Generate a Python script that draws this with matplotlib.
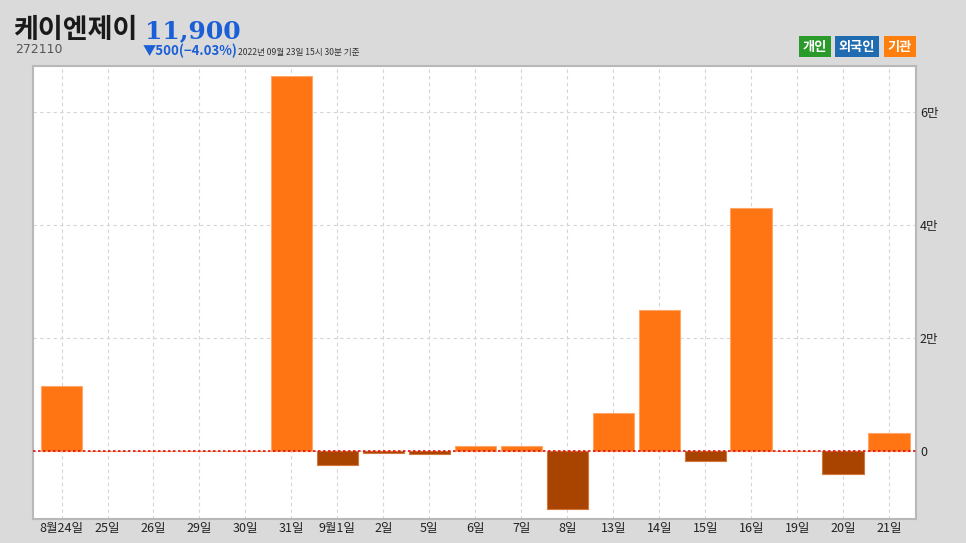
import matplotlib
matplotlib.use('Agg')
import numpy as np
import matplotlib.pyplot as plt
from matplotlib.patches import Rectangle
from matplotlib.ticker import FixedLocator, FuncFormatter

plt.rcParams['font.family'] = ['Noto Sans CJK KR', 'DejaVu Sans']

# 기관 순매수 (주)
dates = ['8월24일', '25일', '26일', '29일', '30일', '31일', '9월1일', '2일', '5일', '6일',
         '7일', '8일', '13일', '14일', '15일', '16일', '19일', '20일', '21일']
inst_net = [11500, 0, 0, 0, 0, 66400, -2500, -250, -450, 950,
            1000, -10300, 6700, 25000, -1700, 43000, 0, -4100, 3300]
y_ticks = [0, 20000, 40000, 60000]

BG = '#dadada'
POS_COLOR = '#ff7413'
NEG_COLOR = '#a84300'
W, H = 966, 543

fig = plt.figure(figsize=(W / 100, H / 100), dpi=100, facecolor=BG)
ax = fig.add_axes([0.0342, 0.0442, 0.9138, 0.8343])
ax.set_facecolor('white')

x = np.arange(len(dates))
vals = np.array(inst_net)
colors = [POS_COLOR if v >= 0 else NEG_COLOR for v in vals]
edges = ['#ffa66a' if v >= 0 else '#d0773a' for v in vals]
ax.bar(x, vals, width=0.9, color=colors, edgecolor=edges, linewidth=0.8, zorder=3)

ax.axhline(0, color='#e01010', linestyle=(0, (1.5, 1.5)), linewidth=1.2, zorder=4)

ax.set_xlim(-0.62, len(dates) - 0.42)
ax.set_ylim(-12000, 68200)
ax.set_xticks(x, dates)
ax.yaxis.set_major_locator(FixedLocator(y_ticks))
ax.yaxis.set_major_formatter(FuncFormatter(lambda v, _: '0' if v == 0 else f'{int(v / 10000)}만'))
ax.yaxis.tick_right()
ax.tick_params(axis='both', length=0, labelsize=9, colors='#222222')
ax.tick_params(axis='x', pad=2)
ax.tick_params(axis='y', pad=3)

ax.grid(True, color='#d4d4d4', linestyle=(0, (3, 3)), linewidth=0.8, zorder=0)
for side, sp in ax.spines.items():
    sp.set_color('#b8b8b8')
    sp.set_linewidth(1.5)

# header (baseline positions in pixels)
def px(y):
    return 1 - y / H

fig.text(0.014, px(38), '케이엔제이', fontsize=19.5, fontweight='bold', color='#1a1a1a', va='baseline')
fig.text(0.150, px(38), '11,900', fontsize=18, fontweight='bold', color='#1a5fd6', va='baseline',
         family='DejaVu Serif')
fig.text(0.016, px(53), '272110', fontsize=9, color='#555555', va='baseline', family='DejaVu Sans')
fig.text(0.148, px(55), '▼500(−4.03%)', fontsize=9.5, fontweight='bold', color='#1a5fd6', va='baseline')
fig.text(0.246, px(55), '2022년 09월 23일 15시 30분 기준', fontsize=6.2, color='#333333', va='baseline')

# legend boxes (pixel extents)
legend_items = [('개인', '#2a9a2a', 799, 831), ('외국인', '#1f6cb0', 835, 879), ('기관', '#ff7f0e', 884, 916)]
for label, col, x0, x1 in legend_items:
    y0, y1 = 36, 57
    fig.add_artist(Rectangle((x0 / W, px(y1)), (x1 - x0) / W, (y1 - y0) / H,
                             transform=fig.transFigure, facecolor=col, edgecolor='none'))
    fig.text((x0 + x1) / 2 / W, px((y0 + y1) / 2), label, fontsize=9.5, fontweight='bold',
             color='white', ha='center', va='center')

fig.savefig('out.png', dpi=100, facecolor=BG)
